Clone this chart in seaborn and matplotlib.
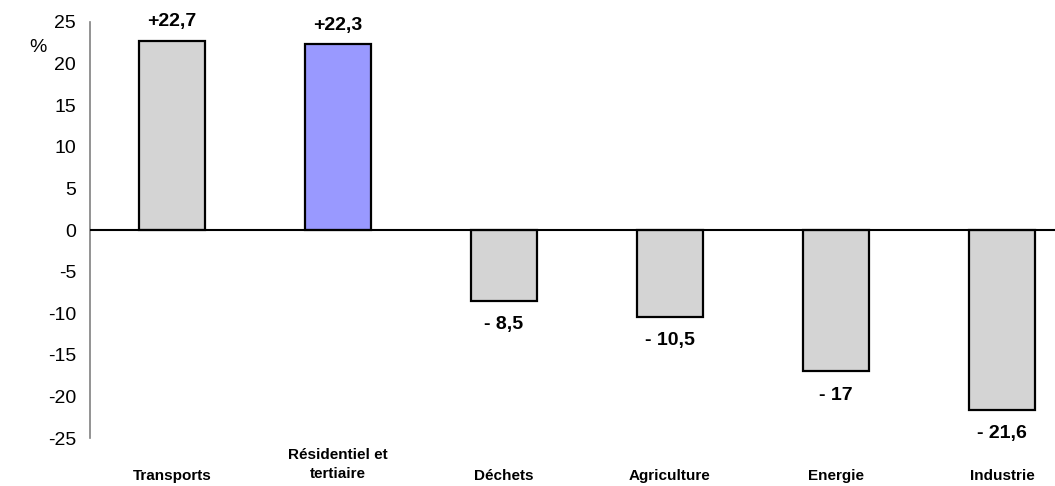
import matplotlib
matplotlib.use("Agg")
import matplotlib.pyplot as plt
import seaborn as sns
import pandas as pd

categories = ["Transports", "Résidentiel et\ntertiaire", "Déchets", "Agriculture", "Energie", "Industrie"]
values = [22.7, 22.3, -8.5, -10.5, -17.0, -21.6]
value_labels = ["+22,7", "+22,3", "- 8,5", "- 10,5", "- 17", "- 21,6"]
bar_colors = ["#d4d4d4", "#9999ff", "#d4d4d4", "#d4d4d4", "#d4d4d4", "#d4d4d4"]
y_ticks = [25, 20, 15, 10, 5, 0, -5, -10, -15, -20, -25]

sns.set_style("white")
plt.rcParams["font.family"] = ["Liberation Sans", "DejaVu Sans"]
plt.rcParams["text.color"] = "black"
plt.rcParams["ytick.labelcolor"] = "black"

df = pd.DataFrame({"cat": categories, "val": values})

fig = plt.figure(figsize=(10.55, 4.86), dpi=100)
ax = fig.add_axes([90 / 1055, 1 - 438 / 486, 1 - 90 / 1055, 416 / 486])

sns.barplot(data=df, x="cat", y="val", hue="cat", palette=bar_colors,
            legend=False, width=0.40, edgecolor="black", linewidth=1.6,
            saturation=1, ax=ax)

ax.set_xlim(-0.494, 5.32)
ax.set_ylim(-25, 25)
ax.set_yticks(y_ticks)
ax.set_yticklabels([str(t) for t in y_ticks], fontsize=14, color="black")
ax.axhline(0, color="black", linewidth=1.5, zorder=3)

for s in ["top", "right", "bottom"]:
    ax.spines[s].set_visible(False)
ax.spines["left"].set_color("#808080")
ax.spines["left"].set_linewidth(1.2)
ax.tick_params(axis="y", direction="out", length=6, width=1.2, color="#808080", pad=4)
ax.set_xticks([])
ax.set_xlabel("")
ax.set_ylabel("")

# category names sit under the plot area, not at the zero line
for i, cat in enumerate(categories):
    off = -19 if "\n" in cat else -27
    ax.annotate(cat, (i, 0), xycoords=("data", "axes fraction"), xytext=(0, off),
                textcoords="offset points", ha="center", va="center",
                fontsize=11, fontweight="bold", linespacing=1.45, color="black")

for i, (v, lab) in enumerate(zip(values, value_labels)):
    off = 14 if v > 0 else -17
    ax.annotate(lab, (i, v), xytext=(0, off), textcoords="offset points",
                ha="center", va="center", fontsize=14, fontweight="bold", color="black")

fig.text(38 / 1055, 1 - 47 / 486, "%", fontsize=14, ha="center", va="center", color="black")

fig.savefig("out.png", dpi=100)
